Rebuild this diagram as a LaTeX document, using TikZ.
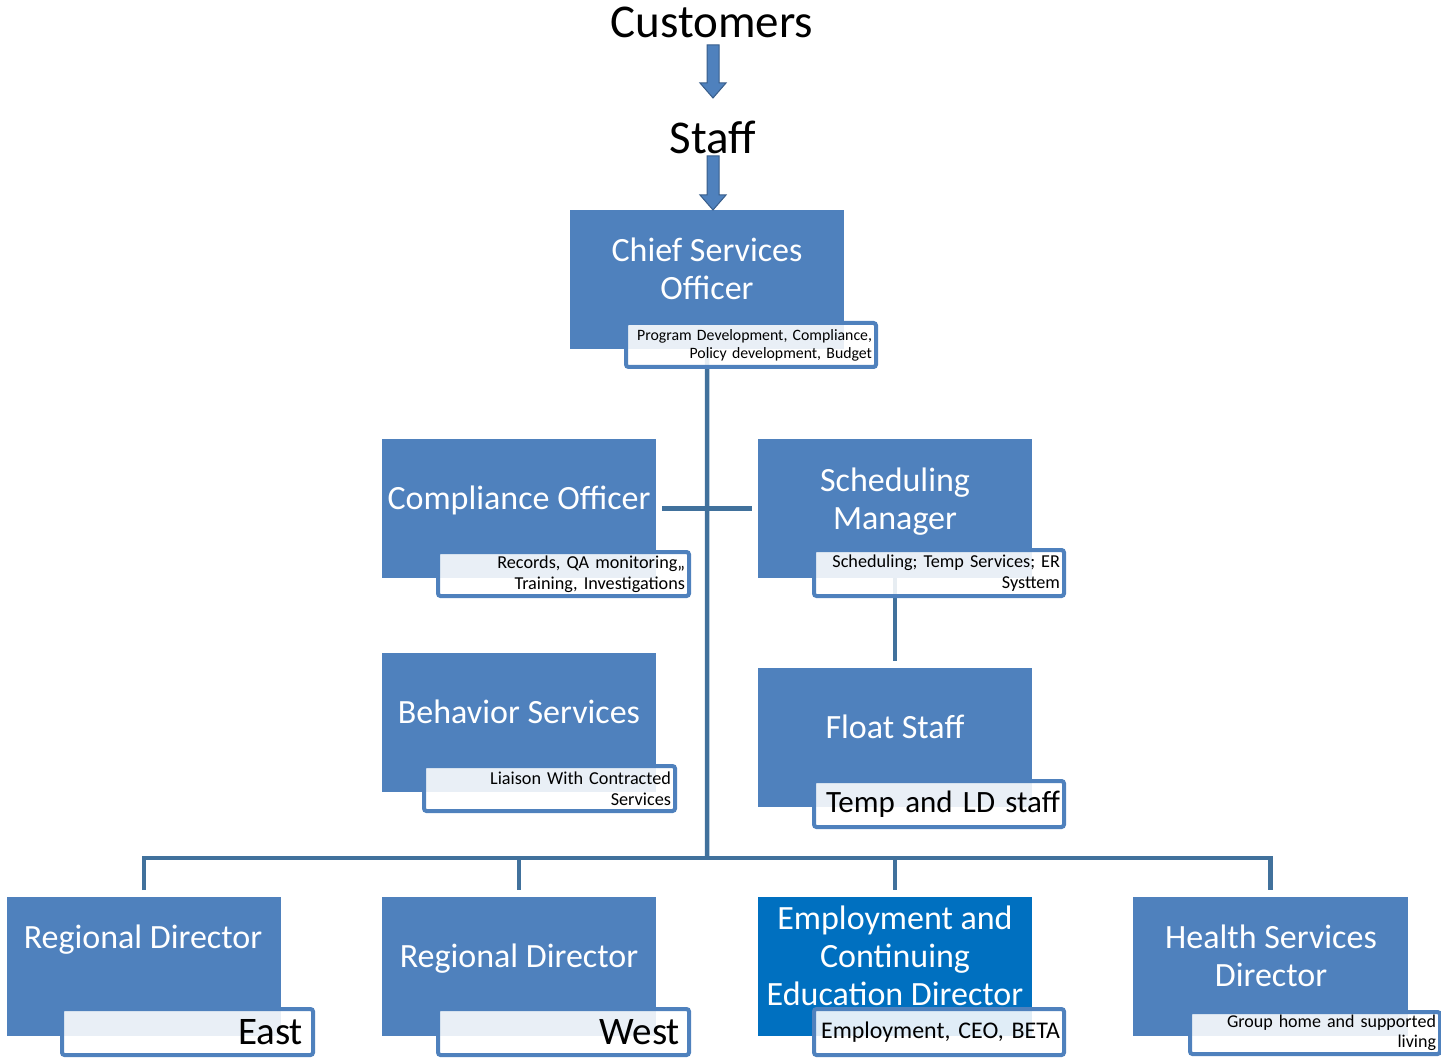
\documentclass[tikz,border=0pt]{standalone}
\usepackage{fontspec}
\setmainfont{Carlito}
\usetikzlibrary{calc}
\definecolor{boxblue}{HTML}{4F81BD}
\definecolor{empblue}{HTML}{0070C0}
\definecolor{linkblue}{HTML}{41719C}
\definecolor{arrowedge}{HTML}{385D8A}
\newcommand\fs[2]{\fontsize{#1}{#2}\selectfont}
\newcommand\blockarrow[2]{%
  \filldraw[barrow] ($(#1)+(-6,0)$) -- ($(#2)+(-6,-15)$) -- ($(#2)+(-13,-15)$) -- (#2)
    -- ($(#2)+(13,-15)$) -- ($(#2)+(6,-15)$) -- ($(#1)+(6,0)$) -- cycle;}
\begin{document}
\begin{tikzpicture}[x=1pt,y=-1pt,
  mainbox/.style={fill=boxblue, minimum width=274pt, minimum height=139pt, inner sep=0pt, anchor=north west},
  subbox/.style={draw=boxblue, line width=4pt, rounded corners=2.5pt, fill=white, fill opacity=0.88,
     text opacity=1, anchor=north west, inner xsep=4pt, inner ysep=0pt, align=right, text=black},
  maintext/.style={text=white, align=center, inner sep=0pt, font=\fs{34}{38}},
  link/.style={draw=linkblue, line width=4.5pt},
  barrow/.style={fill=boxblue, draw=arrowedge, line width=1pt, line join=miter}]
\useasboundingbox (0,0) rectangle (1441,1059);

% top texts and arrows
\node[inner sep=0pt, font=\fs{47}{50}] (cust) at (712,22) {Customers};
\node[inner sep=0pt, font=\fs{47}{50}] (staff) at (713,137) {Staff};
\coordinate (a1top) at (713,45);
\coordinate (a1tip) at (713,98);
\coordinate (a2top) at (713,156);
\coordinate (a2tip) at (713,210);

% main boxes
\node[mainbox] (cso) at (570,210) {};
\node[mainbox] (co) at (382,439) {};
\node[mainbox] (sm) at (758,439) {};
\node[mainbox] (bs) at (382,653) {};
\node[mainbox] (fl) at (758,668) {};
\node[mainbox] (rde) at (7,897) {};
\node[mainbox] (rdw) at (382,897) {};
\node[mainbox, fill=empblue] (emp) at (758,897) {};
\node[mainbox, minimum width=275pt] (hsd) at (1133,897) {};

% connectors
\coordinate (bus) at (707,858);
\blockarrow{a1top}{a1tip}
\blockarrow{a2top}{a2tip}
\draw[link] (cso.south) -- (bus);
\draw[link, shorten <=6pt, shorten >=6pt] (co.east) -- (sm.west);
\draw[link, shorten >=7pt] (sm.south) -- (fl.north);
\draw[link, line join=miter, shorten <=7pt, shorten >=7pt] (rde.north) -- (rde.north |- bus) -- (hsd.north |- bus) -- (hsd.north);
\draw[link, shorten >=7pt] (rdw.north |- bus) -- (rdw.north);
\draw[link, shorten >=7pt] (emp.north |- bus) -- (emp.north);

% main texts
\node[maintext] (cso-t) at (707,269) {Chief Services\\Officer};
\node[maintext] (co-t) at (519,500) {Compliance Officer};
\node[maintext] (sm-t) at (895,502) {Scheduling\\Manager};
\node[maintext] (bs-t) at (519,712) {Behavior Services};
\node[maintext] (fl-t) at (895,727) {Float Staff};
\node[maintext] (rde-t) at (143,940) {Regional Director};
\node[maintext] (rdw-t) at (519,959) {Regional Director};
\node[maintext] (emp-t) at (895,956) {Employment and\\Continuing\\Education Director};
\node[maintext] (hsd-t) at (1271,956) {Health Services\\Director};

% sub boxes
\node[subbox, minimum width=250pt, minimum height=44pt, text width=242pt, font=\fs{15.8}{18}] (cso-s) at (624,321) {Program Development, Compliance,\\Policy development, Budget};
\node[subbox, minimum width=251pt, minimum height=44pt, text width=243pt, font=\fs{18.2}{21}] (co-s) at (436,550) {Records, QA monitoring,,\\Training, Investigations};
\node[subbox, minimum width=250pt, minimum height=46pt, text width=242pt, font=\fs{18.2}{21}] (sm-s) at (812,548) {Scheduling; Temp Services; ER\\Systtem};
\node[subbox, minimum width=251pt, minimum height=45pt, text width=243pt, font=\fs{18.2}{21}] (bs-s) at (422,764) {Liaison With Contracted\\Services};
\node[subbox, minimum width=250pt, minimum height=46pt, text width=242pt, font=\fs{31}{34}] (fl-s) at (812,779) {Temp and LD staff};
\node[subbox, minimum width=251pt, minimum height=46pt, text width=243pt, font=\fs{39}{40}] (rde-s) at (60,1007) {East\hspace*{6pt}};
\node[subbox, minimum width=251pt, minimum height=46pt, text width=243pt, font=\fs{39}{40}] (rdw-s) at (436,1007) {West\hspace*{5pt}};
\node[subbox, minimum width=250pt, minimum height=46pt, text width=242pt, font=\fs{23.9}{26}] (emp-s) at (812,1007) {Employment, CEO, BETA};
\node[subbox, minimum width=250pt, minimum height=42pt, text width=242pt, font=\fs{18}{20}] (hsd-s) at (1188,1010) {Group home and supported\\living};
\end{tikzpicture}
\end{document}
